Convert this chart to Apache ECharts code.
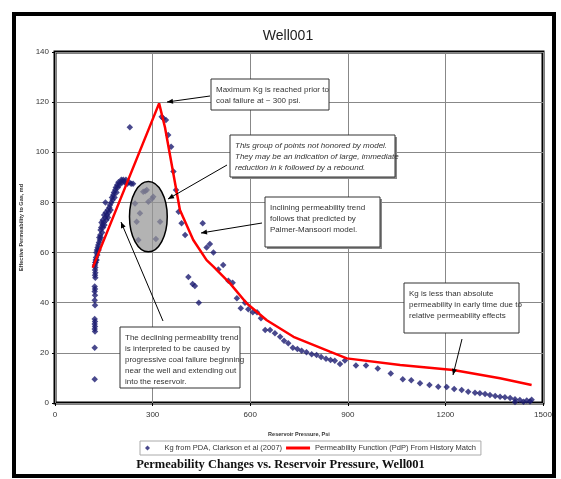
<!DOCTYPE html>
<html>
<head>
<meta charset="utf-8">
<script src="https://cdn.jsdelivr.net/npm/echarts@6/dist/echarts.min.js"></script>
<style>
  html, body { margin: 0; padding: 0; background: #fff; }
  #chart { width: 561px; height: 479px; }
</style>
</head>
<body>
<div id="chart"></div>
<script>
  // tick labels
  const xTicks = [0, 300, 600, 900, 1200, 1500];
  const yTicks = [0, 20, 40, 60, 80, 100, 120, 140];

  // Kg from PDA - vertical column at early time
  const kgColumn = [[122,9.5],[122,22],[123,28.5],[122,29.5],[123,30.5],[122,31.5],[123,32.5],[122,33.5],
    [123,39],[122,41],[123,43],[122,44.5],[123,45.5],[122,46.5],[124,50],[123,51],[124,52],[123,53],
    [124,54],[123,55],[124,56],[125,57]];
  // rising branch
  const kgRising = [[125,56],[126,58],[127,60],[128,57],[129,61],[130,59],[131,62],[133,63],[134,61],
    [135,64],[136,66],[138,65],[139,67],[140,69],[141,66],[142,70],[143,72],[145,68],[146,71],[147,73],
    [148,70],[150,72],[151,75],[152,71],[154,74],[155,80],[156,76],[158,73],[160,75],[162,77],[163,74],
    [165,76],[167,78],[169,79],[171,77],[173,80],[175,82],[177,81],[179,83],[181,84],[183,82],[185,85],
    [187,86],[189,84],[191,87],[193,86],[195,88],[198,87],[201,88],[204,89],[207,88],[210,89],[214,88],
    [218,89],[222,87.5],[228,88],[234,87.5],[240,87.5],[230,110]];
  // group not honored by model (inside ellipse)
  const kgGroup = [[271,84.3],[282,85],[277,84.5],[302,82.3],[298,81.5],[287,80.3],[246,79.6],
    [261,75.7],[251,72.3],[323,72.3],[256,65],[310,65.4]];
  // declining branch
  const kgDecline = [[328,114.2],[333,113.5],[341,112.9],[348,106.9],[357,102.2],[364,92.3],[372,85],
    [380,76.3],[389,71.7],[400,67],[454,71.7],[466,62],[476,63.4],[487,60],[410,50.3],[423,47.5],
    [430,46.7],[442,40],[502,53.2],[517,55],[533,48.8],[546,48],[559,41.8],[571,37.8],[584,40],
    [594,37.4],[608,36.2],[621,36.2],[633,33.8],[646,29.1],[661,29.1],[676,27.8],[692,26.4],[704,24.8],
    [717,23.8],[731,22],[745,21.5],[758,20.8],[773,20.2],[789,19.4],[804,19.1],[818,18.3],[833,17.6],
    [847,17.2],[860,16.9],[876,15.6],[891,17],[925,15],[956,15],[992,13.8],[1032,11.8],[1069,9.5],
    [1095,9.1],[1122,7.9],[1151,7.2],[1178,6.5],[1204,6.4],[1227,5.6],[1250,5.2],[1270,4.5],[1291,4.1],
    [1306,3.9],[1322,3.6],[1337,3.2],[1353,2.8],[1368,2.5],[1383,2.3],[1399,2],[1414,1.5],[1414,0.4],
    [1429,1.2],[1440,0.5],[1450,1],[1460,0.6],[1465,1.3]];
  // Permeability Function (PdP) from history match
  const pdpLine = [[116,54],[320,119.5],[338,110],[384,77],[425,65],[466,57],[487,54.4],[538,47.7],
    [589,39.8],[651,33],[733,26.4],[845,20.5],[897,17.8],[1061,15.2],[1224,13.2],[1368,9.85],[1465,7.2]];
  // ellipse: center x, center y, radius x, radius y (data units)
  const groupEllipse = [[287, 74.3, 58, 14]];

  const kgName = 'Kg from PDA, Clarkson et al (2007)';
  const pdpName = 'Permeability Function (PdP) From History Match';
  const kgAll = kgColumn.concat(kgRising, kgGroup, kgDecline);

  const FONT = 'Liberation Sans, Arial, sans-serif';

  function arrow(x1, y1, x2, y2) {
    const a = Math.atan2(y2 - y1, x2 - x1);
    const L = 6, W = 2.5;
    const c = Math.cos(a), s = Math.sin(a);
    return [
      { type: 'line', z: 100, shape: { x1: x1, y1: y1, x2: x2, y2: y2 }, style: { stroke: '#000', lineWidth: 1 } },
      { type: 'polygon', z: 100, shape: { points: [[x2, y2], [x2 - L * c + W * s, y2 - L * s - W * c], [x2 - L * c - W * s, y2 - L * s + W * c]] }, style: { fill: '#000' } }
    ];
  }

  function box(x, y, w, h, lines, italic, shadow) {
    const els = [];
    if (shadow) {
      els.push({ type: 'rect', z: 99, shape: { x: x + 2, y: y + 2, width: w, height: h }, style: { fill: '#888' } });
    }
    els.push({ type: 'rect', z: 100, shape: { x: x, y: y, width: w, height: h }, style: { fill: '#fff', stroke: '#333', lineWidth: 1 } });
    els.push({ type: 'text', z: 101, x: x + 5, y: y + 5, style: {
      text: lines.join('\n'), fill: '#333', fontSize: 8, fontFamily: FONT,
      fontStyle: italic ? 'italic' : 'normal', lineHeight: 11
    } });
    return els;
  }

  let graphics = [];
  // outer frame
  graphics.push({ type: 'rect', z: 90, shape: { x: 14, y: 14, width: 540, height: 462 }, style: { fill: 'none', stroke: '#000', lineWidth: 4 } });
  graphics = graphics.concat(
    box(211, 79, 118, 31, ['Maximum Kg is reached prior to', 'coal failure at ~ 300 psi.'], false, false),
    arrow(210, 96, 167, 102),
    box(230, 135, 165, 42, ['This group of points not honored by model.', 'They may be an indication of large, immediate', 'reduction in k followed by a rebound.'], true, true),
    arrow(227, 165, 168, 199),
    box(265, 197, 115, 50, ['Inclining permeability trend', 'follows that predicted by', 'Palmer-Mansoori model.'], false, true),
    arrow(262, 223, 201, 233),
    box(120, 327, 120, 61, ['The declining permeability trend', 'is interpreted to be caused by', 'progressive coal failure beginning', 'near the well and extending out', 'into the reservoir.'], false, false),
    arrow(163, 321, 121, 222),
    box(404, 283, 115, 50, ['Kg is less than absolute', 'permeability in early time due to', 'relative permeability effects'], false, false),
    arrow(462, 339, 453, 375)
  );
  graphics.push({ type: 'text', z: 101, left: 'center', top: 458, style: {
    text: 'Permeability Changes vs. Reservoir Pressure, Well001', fill: '#111',
    fontSize: 12.5, fontWeight: 'bold', fontFamily: 'Liberation Serif, Times New Roman, serif'
  } });

  const chart = echarts.init(document.getElementById('chart'), null, { renderer: 'canvas' });
  const option = {
    animation: false,
    backgroundColor: '#fff',
    title: {
      text: 'Well001', left: 283, top: 24, textAlign: 'center',
      textStyle: { fontSize: 14, fontWeight: 'normal', color: '#222', fontFamily: FONT }
    },
    legend: {
      data: [
        { name: kgName, icon: 'path://M5,0L10,5L5,10L0,5Z' },
        { name: pdpName, icon: 'path://M0,0H48V6H0Z' }
      ],
      left: 140, top: 441,
      itemWidth: 24, itemHeight: 5, itemGap: 4,
      padding: [3, 5],
      borderColor: '#aaa', borderWidth: 1,
      textStyle: { fontSize: 7.5, color: '#333', fontFamily: FONT }
    },
    grid: {
      left: 55, right: 18, top: 52, bottom: 76,
      show: true, borderColor: '#000', borderWidth: 3, backgroundColor: '#fff'
    },
    xAxis: {
      type: 'value', min: xTicks[0], max: xTicks[xTicks.length - 1], interval: 300,
      name: 'Reservoir Pressure, Psi', nameLocation: 'middle', nameGap: 28,
      nameTextStyle: { fontSize: 5.5, fontWeight: 'bold', color: '#333', fontFamily: FONT },
      axisLine: { show: false },
      axisTick: { show: true, length: 3, lineStyle: { color: '#000' } },
      axisLabel: { fontSize: 8, color: '#333', margin: 8, fontFamily: FONT, formatter: function (v) { return String(v); } },
      splitLine: { show: true, lineStyle: { color: '#888', width: 1 } }
    },
    yAxis: {
      type: 'value', min: yTicks[0], max: yTicks[yTicks.length - 1], interval: 20,
      name: 'Effective Permeability to Gas, md', nameLocation: 'middle', nameGap: 22,
      nameTextStyle: { fontSize: 5.5, fontWeight: 'bold', color: '#333', fontFamily: FONT },
      axisLine: { show: false },
      axisTick: { show: true, length: 3, lineStyle: { color: '#000' } },
      axisLabel: { fontSize: 8, color: '#333', margin: 6, fontFamily: FONT },
      splitLine: { show: true, lineStyle: { color: '#888', width: 1 } }
    },
    series: [
      {
        name: kgName, type: 'scatter', symbol: 'diamond', symbolSize: 6.5, z: 3,
        itemStyle: { color: '#1b1c70' },
        data: kgAll
      },
      {
        name: 'ellipse', type: 'custom', z: 4,
        renderItem: function (params, api) {
          const c = api.coord([api.value(0), api.value(1)]);
          const sz = api.size([api.value(2), api.value(3)]);
          return {
            type: 'ellipse',
            shape: { cx: c[0], cy: c[1], rx: sz[0], ry: sz[1] },
            style: { fill: 'rgba(150,150,150,0.72)', stroke: '#000', lineWidth: 1.5 }
          };
        },
        data: groupEllipse
      },
      {
        name: pdpName, type: 'line', z: 5, symbol: 'none', smooth: false,
        lineStyle: { color: '#ff0000', width: 2.5 },
        itemStyle: { color: '#ff0000' },
        data: pdpLine
      }
    ],
    graphic: graphics
  };
  chart.setOption(option);
</script>
</body>
</html>
